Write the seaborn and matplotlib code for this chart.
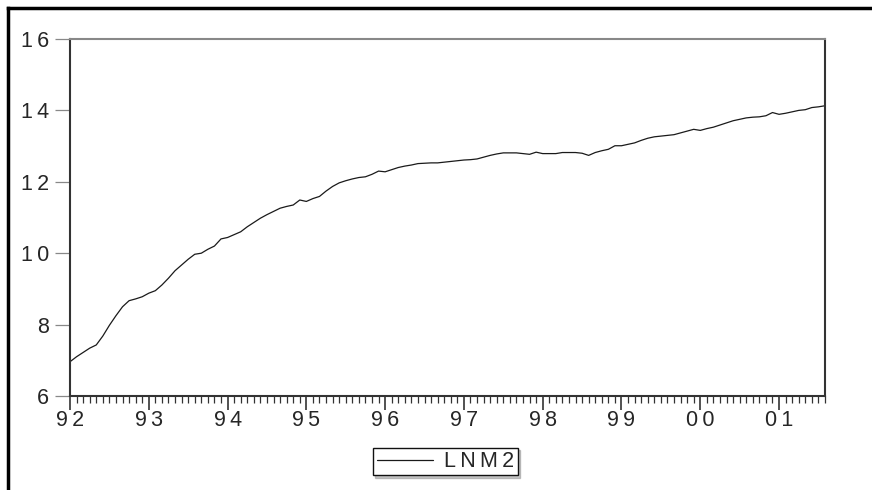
import matplotlib
matplotlib.use("Agg")
import matplotlib.pyplot as plt
from matplotlib.lines import Line2D
from matplotlib.ticker import FixedLocator, MultipleLocator
import numpy as np
import pandas as pd
import seaborn as sns

# Monthly log of M2, 1992:01 onwards
lnm2 = [
    6.96, 7.10, 7.22, 7.34, 7.43, 7.68, 7.98, 8.25, 8.50, 8.67, 8.72, 8.78,
    8.88, 8.95, 9.11, 9.30, 9.51, 9.67, 9.83, 9.97, 10.00, 10.11, 10.20, 10.40,
    10.44, 10.52, 10.60, 10.74, 10.86, 10.98, 11.08, 11.17, 11.26, 11.31, 11.35, 11.49,
    11.45, 11.53, 11.59, 11.74, 11.87, 11.97, 12.03, 12.08, 12.12, 12.14, 12.21, 12.30,
    12.28, 12.34, 12.40, 12.44, 12.47, 12.51, 12.52, 12.53, 12.53, 12.55, 12.57, 12.59,
    12.61, 12.62, 12.64, 12.69, 12.74, 12.78, 12.81, 12.81, 12.81, 12.79, 12.77, 12.83,
    12.79, 12.79, 12.79, 12.82, 12.82, 12.82, 12.80, 12.74, 12.82, 12.87, 12.91, 13.01,
    13.01, 13.05, 13.09, 13.16, 13.22, 13.26, 13.28, 13.30, 13.32, 13.37, 13.42, 13.47,
    13.44, 13.49, 13.53, 13.59, 13.65, 13.71, 13.75, 13.79, 13.81, 13.82, 13.85, 13.94,
    13.89, 13.92, 13.96, 14.00, 14.02, 14.08, 14.10, 14.13,
]
year_labels = ["92", "93", "94", "95", "96", "97", "98", "99", "00", "01"]
y_ticks = [6, 8, 10, 12, 14, 16]
series_name = "LNM2"


def spaced(s):
    # slightly tracked-out lettering
    return "\u2009".join(s)


df = pd.DataFrame({"month": np.arange(len(lnm2)), series_name: lnm2})

sns.set_style("white")
plt.rcParams["font.family"] = ["Liberation Sans", "DejaVu Sans"]

fig = plt.figure(figsize=(8.72, 4.90), dpi=100)
ax = fig.add_axes([70 / 872, 94 / 490, 755 / 872, 357 / 490])

sns.lineplot(data=df, x="month", y=series_name, ax=ax, color="#1a1a1a",
             linewidth=0.9, legend=False)

ax.set_xlim(0, len(lnm2) - 1)
ax.set_ylim(6, 16)
ax.set_xlabel("")
ax.set_ylabel("")

ax.xaxis.set_major_locator(FixedLocator(np.arange(len(year_labels)) * 12))
ax.set_xticklabels([spaced(s) for s in year_labels])
ax.xaxis.set_minor_locator(MultipleLocator(1))
ax.set_yticks(y_ticks)
ax.set_yticklabels([spaced(str(v)) for v in y_ticks])

ax.tick_params(axis="x", which="major", direction="out", length=10, width=1.2,
               color="#333333", pad=0, labelsize=15.5, bottom=True)
ax.tick_params(axis="x", which="minor", direction="out", length=5, width=0.9,
               color="#333333", bottom=True)
ax.tick_params(axis="y", which="major", direction="out", length=11, width=0.9,
               color="#888888", pad=4, labelsize=15.5, left=True)

ax.spines["top"].set_color("#888888")
ax.spines["top"].set_linewidth(1.5)
for side in ("left", "right", "bottom"):
    ax.spines[side].set_color("#333333")
    ax.spines[side].set_linewidth(1.5)

leg = ax.legend(handles=[Line2D([0], [0], color="#1a1a1a", lw=0.9)],
                labels=[spaced(series_name)],
                loc="upper center", bbox_to_anchor=(445.5 / 872, 42 / 490),
                bbox_transform=fig.transFigure, fontsize=15.5, frameon=True,
                fancybox=False, framealpha=1, edgecolor="#111111",
                shadow={"ox": 1.5, "oy": -1.5, "color": "0.55"},
                borderpad=0.15, handlelength=2.6, handletextpad=0.55,
                borderaxespad=0)
leg.get_frame().set_linewidth(1.0)

# Outer frame lines along the left and top edges
fig.add_artist(Line2D([8 / 872, 8 / 872], [0, 1 - 8.5 / 490], transform=fig.transFigure,
                      color="black", lw=2.5, solid_capstyle="projecting"))
fig.add_artist(Line2D([8 / 872, 1], [1 - 8.5 / 490, 1 - 8.5 / 490], transform=fig.transFigure,
                      color="black", lw=2.5, solid_capstyle="projecting"))

fig.savefig("out.png", dpi=100)
